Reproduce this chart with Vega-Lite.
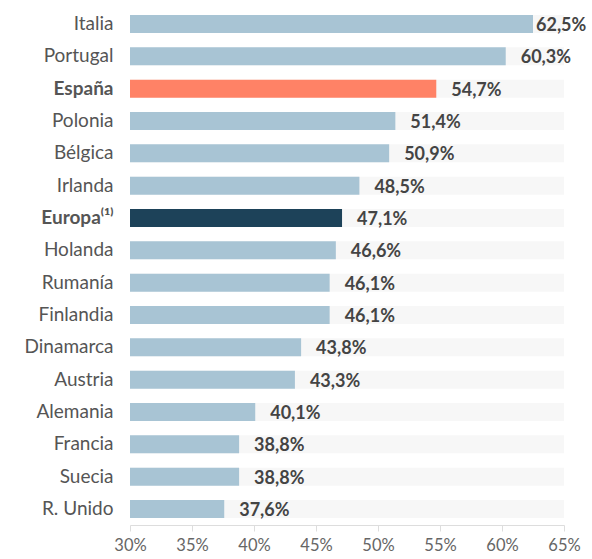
{
  "$schema": "https://vega.github.io/schema/vega-lite/v6.json",
  "width": 434,
  "height": 517,
  "autosize": {"type": "none"},
  "padding": {"left": 130, "top": 8, "right": 28, "bottom": 34},
  "config": {
    "view": {"stroke": null},
    "font": "Lato",
    "locale": {"number": {"decimal": ",", "thousands": ".", "grouping": [3], "currency": ["", " €"]}}
  },
  "data": {
    "values": [
      {"pais": "Italia", "valor": 0.625},
      {"pais": "Portugal", "valor": 0.603},
      {"pais": "España", "valor": 0.547},
      {"pais": "Polonia", "valor": 0.514},
      {"pais": "Bélgica", "valor": 0.509},
      {"pais": "Irlanda", "valor": 0.485},
      {"pais": "Europa⁽¹⁾", "valor": 0.471},
      {"pais": "Holanda", "valor": 0.466},
      {"pais": "Rumanía", "valor": 0.461},
      {"pais": "Finlandia", "valor": 0.461},
      {"pais": "Dinamarca", "valor": 0.438},
      {"pais": "Austria", "valor": 0.433},
      {"pais": "Alemania", "valor": 0.401},
      {"pais": "Francia", "valor": 0.388},
      {"pais": "Suecia", "valor": 0.388},
      {"pais": "R. Unido", "valor": 0.376}
    ]
  },
  "encoding": {
    "y": {
      "field": "pais",
      "type": "nominal",
      "sort": null,
      "scale": {"paddingInner": 0.443, "paddingOuter": 0.217},
      "axis": {
        "title": null,
        "domain": false,
        "ticks": false,
        "labelPadding": 17,
        "labelFontSize": 19,
        "labelColor": "#555555",
        "labelLimit": 200,
        "labelFontWeight": {"condition": {"test": "datum.value === 'España' || datum.value === 'Europa⁽¹⁾'", "value": "bold"}, "value": "normal"}
      }
    }
  },
  "layer": [
    {
      "mark": {"type": "bar", "color": "#f7f7f7"},
      "encoding": {
        "x": {
          "datum": 0.65,
          "type": "quantitative",
          "scale": {"domain": [0.3, 0.65], "zero": false, "nice": false},
          "axis": {
            "title": null,
            "grid": false,
            "format": ".0%",
            "values": [0.3, 0.35, 0.4, 0.45, 0.5, 0.55, 0.6, 0.65],
            "labelFlush": false,
            "labelOverlap": false,
            "domainColor": "#dddddd",
            "tickColor": "#dddddd",
            "tickSize": 6,
            "labelPadding": 6,
            "labelFontSize": 16.5,
            "labelColor": "#666666"
          }
        },
        "x2": {"datum": 0.3}
      }
    },
    {
      "mark": {"type": "bar"},
      "encoding": {
        "x": {"field": "valor", "type": "quantitative"},
        "x2": {"datum": 0.3},
        "color": {
          "condition": [
            {"test": "datum.pais === 'España'", "value": "#ff8266"},
            {"test": "datum.pais === 'Europa⁽¹⁾'", "value": "#1d4259"}
          ],
          "value": "#a8c4d4"
        }
      }
    },
    {
      "transform": [{"filter": "datum.valor < 0.62"}],
      "mark": {"type": "text", "align": "left", "baseline": "middle", "dx": 15, "dy": 2, "fontSize": 18, "fontWeight": "bold", "color": "#444444"},
      "encoding": {
        "x": {"field": "valor", "type": "quantitative"},
        "text": {"field": "valor", "type": "quantitative", "format": ".1%"}
      }
    },
    {
      "transform": [{"filter": "datum.valor >= 0.62"}],
      "mark": {"type": "text", "align": "left", "baseline": "middle", "dx": 3, "dy": 2, "fontSize": 18, "fontWeight": "bold", "color": "#444444"},
      "encoding": {
        "x": {"field": "valor", "type": "quantitative"},
        "text": {"field": "valor", "type": "quantitative", "format": ".1%"}
      }
    }
  ]
}
